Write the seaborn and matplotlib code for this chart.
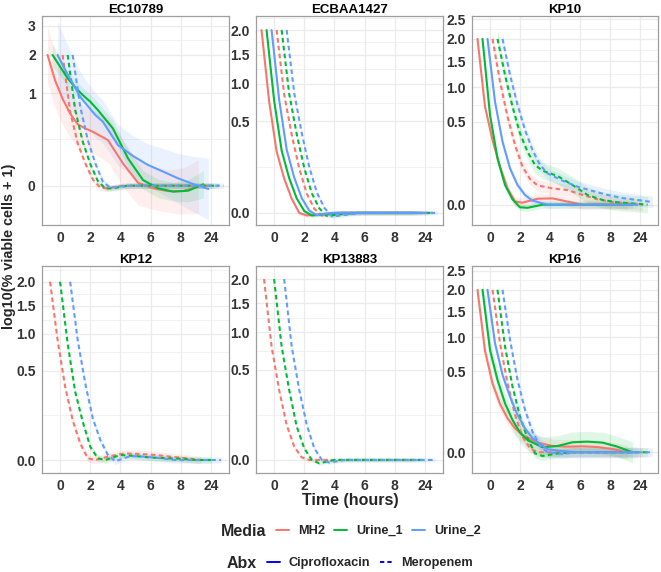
import numpy as np
import pandas as pd
import seaborn as sns
import matplotlib.pyplot as plt
from matplotlib.lines import Line2D

sns.set_style("white")
plt.rcParams['font.family'] = ['Liberation Sans', 'DejaVu Sans']

# time points (discrete axis) and groups
time_labels = ["0", "2", "4", "6", "8", "24"]
media = ["MH2", "Urine_1", "Urine_2"]
abx = ["Ciprofloxacin", "Meropenem"]
media_colors = ["#F8766D", "#00BA38", "#619CFF"]
isolates = ["EC10789", "ECBAA1427", "KP10", "KP12", "KP13883", "KP16"]

# positions along each smoothed curve, in time-point steps from its first point
smooth_pos = [0, 0.25, 0.5, 0.75, 1, 1.25, 1.5, 2, 2.5, 3, 3.5, 4, 4.5, 5]

# smoothed log10(% viable cells + 1), one list per media (MH2, Urine_1, Urine_2)
ec10789_cip = [
    [2.0, 1.30, 0.884, 0.608, 0.441, 0.384, 0.341, 0.244, 0.0586, 0.001, -0.0008, -0.0034, -0.0034, -0.0001],
    [2.0, 1.659, 1.350, 1.132, 0.962, 0.826, 0.671, 0.384, 0.0876, 0.0037, -0.0008, -0.0042, -0.0029, 0.0002],
    [2.0, 1.567, 1.228, 0.927, 0.743, 0.585, 0.480, 0.194, 0.103, 0.050, 0.0231, 0.0062, 0.0003, -0.0013],
]
ec10789_mer = [
    [2.0, 0.642, 0.210, 0.0585, 0.0047, -0.0005, -0.0008, 0, 0, 0, 0, 0, 0, 0],
    [2.0, 0.671, 0.227, 0.055, 0.0026, -0.001, -0.0008, 0, 0, 0, 0, 0, 0, 0],
    [2.0, 0.731, 0.244, 0.0585, 0.0019, -0.0005, -0.0001, 0, 0, 0, 0, 0, 0, 0],
]
ecbaa1427_cip = [
    [2.0, 0.750, 0.226, 0.0708, 0.0121, 0.0, -0.0004, -0.0001, 0, 0, 0, 0, 0, 0],
    [2.0, 0.760, 0.232, 0.072, 0.0125, 0.0002, -0.0004, -0.0001, 0, 0, 0, 0, 0, 0],
    [2.0, 0.770, 0.240, 0.075, 0.013, 0.0003, -0.0003, 0, 0, 0, 0, 0, 0, 0],
]
ecbaa1427_mer = [
    [2.0, 0.843, 0.366, 0.118, 0.0222, 0.001, -0.0004, 0, 0, 0, 0, 0, 0, 0],
    [2.0, 0.85, 0.37, 0.12, 0.023, 0.0012, -0.0006, -0.0001, 0, 0, 0, 0, 0, 0],
    [2.0, 0.86, 0.38, 0.125, 0.025, 0.0015, -0.0008, -0.0002, 0, 0, 0, 0, 0, 0],
]
kp10_cip = [
    [2.0, 0.700, 0.305, 0.105, 0.0193, 0.0007, 0.0003, 0.0026, 0.0029, 0.0007, 0, 0, 0, 0],
    [2.0, 0.586, 0.156, 0.0282, 0.0021, -0.0005, -0.0007, 0, 0, 0, 0, 0, 0, 0],
    [2.0, 0.773, 0.289, 0.0961, 0.0282, 0.0069, 0.0012, 0, 0, 0, 0, 0, 0, 0],
]
kp10_mer = [
    [2.0, 1.102, 0.564, 0.259, 0.105, 0.048, 0.0272, 0.0193, 0.0156, 0.0069, 0.0021, 0.0005, 0.0001, 0.0],
    [2.0, 1.225, 0.699, 0.371, 0.204, 0.115, 0.0841, 0.060, 0.0282, 0.0069, 0.0016, 0.0004, 0.0001, 0.0],
    [2.0, 1.225, 0.724, 0.406, 0.218, 0.115, 0.0713, 0.042, 0.0237, 0.0137, 0.0069, 0.0032, 0.0016, 0.0005],
]
kp12_mer = [
    [2.0, 0.906, 0.339, 0.100, 0.0174, 0.0002, 0, 0.001, 0.0028, 0.0023, 0.0016, 0.0007, 0.0002, 0.0],
    [2.0, 0.856, 0.294, 0.0924, 0.0112, 0.0002, 0, 0.0016, 0.001, 0.0004, 0.0002, 0.0001, 0, 0],
    [2.0, 0.906, 0.370, 0.109, 0.0253, 0.0016, -0.0001, 0.001, 0.0007, 0.0002, 0, 0, 0, 0],
]
kp13883_mer = [
    [2.0, 0.787, 0.300, 0.075, 0.0108, 0.0004, 0, 0, 0, 0, 0, 0, 0, 0],
    [2.0, 0.787, 0.300, 0.068, 0.0083, 0, -0.0007, 0, 0, 0, 0, 0, 0, 0],
    [2.0, 0.787, 0.300, 0.075, 0.0083, 0, -0.0004, 0, 0, 0, 0, 0, 0, 0],
]
kp16_cip = [
    [2.0, 0.78, 0.361, 0.177, 0.0876, 0.0437, 0.0228, 0.0071, 0.003, 0.0024, 0.0027, 0.0021, 0.0008, 0.0],
    [2.0, 0.794, 0.397, 0.182, 0.0795, 0.0292, 0.0115, 0.0019, 0.003, 0.0076, 0.0086, 0.0071, 0.0024, 0.0],
    [2.0, 0.901, 0.454, 0.235, 0.106, 0.0437, 0.0149, 0.0007, 0.0001, 0, 0, 0, 0, 0],
]
kp16_mer = [
    [2.0, 0.901, 0.361, 0.106, 0.0185, 0.0012, 0, 0, 0, 0, 0, 0, 0, 0],
    [2.0, 0.847, 0.327, 0.0967, 0.0149, -0.0001, -0.001, -0.0001, 0, 0, 0, 0, 0, 0],
    [2.0, 0.957, 0.397, 0.136, 0.0324, 0.003, 0, -0.0002, 0, 0, 0, 0, 0, 0],
]

# confidence band half widths (sqrt scale), per media
ec10789_cip_se = [
    [0.3, 0.3, 0.28, 0.26, 0.24, 0.23, 0.23, 0.24, 0.25, 0.24, 0.23, 0.23, 0.25, 0.29],
    [0.12, 0.1, 0.09, 0.08, 0.08, 0.08, 0.08, 0.09, 0.1, 0.1, 0.1, 0.1, 0.12, 0.15],
    [0.36, 0.33, 0.3, 0.27, 0.25, 0.24, 0.23, 0.22, 0.22, 0.23, 0.25, 0.27, 0.3, 0.33],
]
ec10789_mer_se = [0.03, 0.03, 0.03]
ecbaa1427_cip_se = [0.015, 0.015, 0.015]
ecbaa1427_mer_se = [0.015, 0.015, 0.015]
kp10_cip_se = [0.04, 0.03, 0.03]
kp10_mer_se = [0.05, 0.07, 0.05]
kp12_mer_se = [0.03, 0.025, 0.025]
kp13883_mer_se = [0.015, 0.015, 0.015]
kp16_cip_se = [0.06, 0.09, 0.05]
kp16_mer_se = [0.04, 0.04, 0.04]

panel_data = {
    "EC10789": [("Ciprofloxacin", ec10789_cip, ec10789_cip_se), ("Meropenem", ec10789_mer, ec10789_mer_se)],
    "ECBAA1427": [("Ciprofloxacin", ecbaa1427_cip, ecbaa1427_cip_se), ("Meropenem", ecbaa1427_mer, ecbaa1427_mer_se)],
    "KP10": [("Ciprofloxacin", kp10_cip, kp10_cip_se), ("Meropenem", kp10_mer, kp10_mer_se)],
    "KP12": [("Meropenem", kp12_mer, kp12_mer_se)],
    "KP13883": [("Meropenem", kp13883_mer, kp13883_mer_se)],
    "KP16": [("Ciprofloxacin", kp16_cip, kp16_cip_se), ("Meropenem", kp16_mer, kp16_mer_se)],
}

y_breaks = {
    "EC10789": [0, 1, 2, 3],
    "ECBAA1427": [0, 0.5, 1, 1.5, 2],
    "KP10": [0, 0.5, 1, 1.5, 2, 2.5],
    "KP12": [0, 0.5, 1, 1.5, 2],
    "KP13883": [0, 0.5, 1, 1.5, 2],
    "KP16": [0, 0.5, 1, 1.5, 2, 2.5],
}
y_limits = {
    "EC10789": (-0.181, 3.37),
    "ECBAA1427": (-0.0088, 2.32),
    "KP10": (-0.030, 2.59),
    "KP12": (-0.0106, 2.37),
    "KP13883": (-0.0104, 2.30),
    "KP16": (-0.0325, 2.63),
}


def fwd(y):
    y = np.asarray(y, dtype=float)
    return np.sign(y) * np.sqrt(np.abs(y))


def inv(s):
    s = np.asarray(s, dtype=float)
    return np.sign(s) * s ** 2


W, H = 661, 572
fig = plt.figure(figsize=(W / 100, H / 100), dpi=100)

cols = [(42, 187), (256, 187), (472, 186)]
rows = [(16, 209), (266, 207)]
grid_col = "#EBEBEB"
border_col = "#9E9E9E"
text_col = "#333333"

for i, iso in enumerate(isolates):
    (left, w), (top, h) = cols[i % 3], rows[i // 3]
    ax = fig.add_axes([left / W, 1 - (top + h) / H, w / W, h / H])

    groups = []
    for ab, curves, ses in panel_data[iso]:
        for m, ys, se in zip(media, curves, ses):
            groups.append((ab, m, ys, se))
    n = len(groups)

    rows_df = []
    for k, (ab, m, ys, se) in enumerate(groups):
        offset = (k - (n - 1) / 2) / n
        xs = np.array(smooth_pos) + offset
        ys = np.array(ys)
        s = fwd(ys)
        half = np.broadcast_to(np.array(se, dtype=float), s.shape)
        ax.fill_between(xs, inv(s - half), inv(s + half),
                        color=media_colors[media.index(m)], alpha=0.12, lw=0)
        for x, y in zip(xs, ys):
            rows_df.append({"x": x, "y": y, "Media": m, "Abx": ab})
    df = pd.DataFrame(rows_df)

    sns.lineplot(data=df, x="x", y="y", hue="Media", style="Abx",
                 hue_order=media, style_order=abx,
                 palette=dict(zip(media, media_colors)),
                 dashes={"Ciprofloxacin": "", "Meropenem": (2.2, 1.6)},
                 estimator=None, linewidth=1.5, legend=False, ax=ax)

    ax.set_yscale("function", functions=(fwd, inv))
    lo, hi = y_limits[iso]

    br = y_breaks[iso]
    if iso == "EC10789":
        labels = [str(b) for b in br]
    else:
        labels = [f"{b:.1f}" for b in br]
    ax.set_yticks(br)
    ax.set_yticklabels(labels)
    sb = fwd(br)
    step_lo = sb[1] - sb[0]
    step_hi = sb[-1] - sb[-2]
    mids = np.array(list((sb[:-1] + sb[1:]) / 2) + [sb[0] - step_lo / 2, sb[-1] + step_hi / 2])
    minor = inv(mids)
    minor = minor[(minor > lo) & (minor < hi)]
    ax.set_yticks(minor, minor=True)
    ax.set_xticks(range(len(time_labels)))
    ax.set_xticklabels(time_labels)
    ax.set_xlim(-0.6, 5.6)
    ax.set_ylim(lo, hi)

    ax.grid(True, which="major", color=grid_col, lw=0.9)
    ax.grid(True, which="minor", axis="y", color=grid_col, lw=0.5)
    ax.set_axisbelow(True)
    ax.tick_params(which="major", length=3, width=0.8, color=border_col, pad=1.5,
                   labelsize=10, labelcolor=text_col)
    ax.tick_params(which="minor", length=0)
    for lab in ax.get_xticklabels() + ax.get_yticklabels():
        lab.set_fontweight("bold")
    for sp in ax.spines.values():
        sp.set_color(border_col)
        sp.set_linewidth(0.9)
    ax.set_xlabel("")
    ax.set_ylabel("")
    ax.set_title(iso, fontsize=9.5, fontweight="bold", pad=2.5, color="black")

fig.text(9 / W, 1 - 246 / H, "log10(% viable cells + 1)", rotation=90,
         ha="center", va="center", fontsize=10.4, fontweight="bold")
fig.text(350 / W, 1 - 501 / H, "Time (hours)", ha="center", va="center",
         fontsize=11.5, fontweight="bold")

# legends
media_handles = [Line2D([], [], color=c, lw=1.4) for c in media_colors]
fig.text(221 / W, 1 - 531 / H, "Media", ha="left", va="center",
         fontsize=11.5, fontweight="bold")
fig.legend(media_handles, media, loc="center left",
           bbox_to_anchor=(276 / W, 1 - 531 / H), ncol=3, frameon=False,
           handlelength=1.0, handletextpad=0.7, columnspacing=0.75,
           borderpad=0, borderaxespad=0, prop=dict(weight="bold", size=9.2))

abx_handles = [Line2D([], [], color="blue", lw=1.4),
               Line2D([], [], color="blue", lw=1.4, dashes=(2.2, 1.6))]
fig.text(227 / W, 1 - 563 / H, "Abx", ha="left", va="center",
         fontsize=11.5, fontweight="bold")
fig.legend(abx_handles, abx, loc="center left",
           bbox_to_anchor=(267 / W, 1 - 563 / H), ncol=2, frameon=False,
           handlelength=1.0, handletextpad=0.7, columnspacing=0.75,
           borderpad=0, borderaxespad=0, prop=dict(weight="bold", size=9.2))

fig.savefig("out.png", dpi=100)
